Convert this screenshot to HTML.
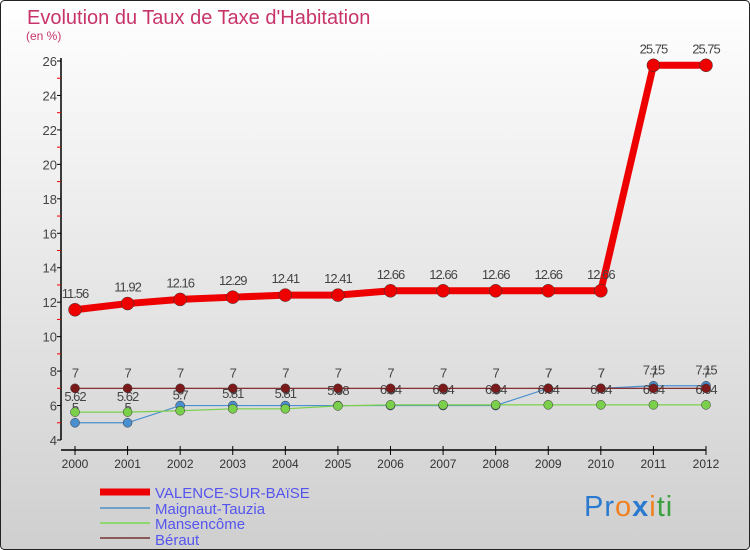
<!DOCTYPE html>
<html><head><meta charset="utf-8"><style>
body{margin:0;padding:0}
#c{position:relative;width:750px;height:550px;overflow:hidden}
svg text{font-family:"Liberation Sans",sans-serif}
</style></head><body>
<div id="c">
<svg id="s" width="750" height="550" xmlns="http://www.w3.org/2000/svg">
<defs><linearGradient id="bg" x1="0" y1="0" x2="0" y2="1"><stop offset="0" stop-color="#ffffff"/><stop offset="1" stop-color="#cfcfcf"/></linearGradient></defs>
<rect x="0.5" y="0.5" width="749" height="549" rx="4" fill="url(#bg)" stroke="#222"/>
<text x="27" y="24" font-size="20" fill="#c8346a">Evolution du Taux de Taxe d'Habitation</text>
<text x="26" y="40" font-size="12" fill="#c8346a">(en %)</text>
<g id="axes"></g><g id="series"></g>
<line x1="100" y1="492" x2="150" y2="492" stroke="#e00" stroke-width="7"/>
<text x="155" y="498" font-size="15" fill="#5555ee">VALENCE-SUR-BAïSE</text>
<line x1="100" y1="508" x2="150" y2="508" stroke="#6fa0c8" stroke-width="2"/>
<text x="155" y="514" font-size="15" fill="#5555ee">Maignaut-Tauzia</text>
<line x1="100" y1="523" x2="150" y2="523" stroke="#8fd870" stroke-width="2"/>
<text x="155" y="529" font-size="15" fill="#5555ee">Mansencôme</text>
<line x1="100" y1="538" x2="150" y2="538" stroke="#8a5a5a" stroke-width="2"/>
<text x="155" y="545" font-size="15" fill="#5555ee">Béraut</text>
<text x="584" y="516" font-size="29" letter-spacing="1"><tspan fill="#2a7ad0">Pr</tspan><tspan fill="#f08020">o</tspan><tspan fill="#2a7ad0" font-weight="bold">x</tspan><tspan fill="#f08020">i</tspan><tspan fill="#3aa040">ti</tspan></text>
</svg></div>
<script>
const years=[2000,2001,2002,2003,2004,2005,2006,2007,2008,2009,2010,2011,2012];
const valence=[11.56,11.92,12.16,12.29,12.41,12.41,12.66,12.66,12.66,12.66,12.66,25.75,25.75];
const maignaut=[5,5,6,6,6,6,6,6,6,7,7,7.15,7.15];
const mansencome=[5.62,5.62,5.7,5.81,5.81,5.98,6.04,6.04,6.04,6.04,6.04,6.04,6.04];
const beraut=[7,7,7,7,7,7,7,7,7,7,7,7,7];
const yTicks=[4,6,8,10,12,14,16,18,20,22,24,26];
const NS="http://www.w3.org/2000/svg";
function X(i){return 75+i*(706-75)/(years.length-1);}
function Y(v){return 440-(v-4)*(440-61)/22;}
function mk(t,a,p){const e=document.createElementNS(NS,t);for(const k in a)e.setAttribute(k,a[k]);p.appendChild(e);return e;}
const ax=document.getElementById('axes'),sg=document.getElementById('series');
let e=mk('line',{x1:61,y1:58,x2:61,y2:440,stroke:'#000','stroke-width':1.5},ax);


e=mk('line',{x1:61,y1:450,x2:706,y2:450,stroke:'#000','stroke-width':1.5},ax);


yTicks.forEach(v=>{
 mk('line',{x1:57,y1:Y(v),x2:61,y2:Y(v),stroke:'#000'},ax);
 if(v<26)mk('line',{x1:57,y1:Y(v+1),x2:61,y2:Y(v+1),stroke:'#e00'},ax);
 const t=mk('text',{x:57,y:Y(v)+5,'font-size':13,fill:'#444','text-anchor':'end'},ax);t.textContent=v;
 
 
});
years.forEach((y,i)=>{
 mk('line',{x1:X(i),y1:446,x2:X(i),y2:455,stroke:'#000'},ax);
 const t=mk('text',{x:X(i),y:468,'font-size':12,fill:'#333','text-anchor':'middle'},ax);t.textContent=y;
 
 
});
function series(arr,name,col,w,r,lblOff,lblCol){
 const p=mk('polyline',{points:arr.map((v,i)=>X(i)+','+Y(v)).join(' '),fill:'none',stroke:col,'stroke-width':w},sg);
 
 
 arr.forEach((v,i)=>{
  const c=mk('circle',{cx:X(i),cy:Y(v),r:r,fill:col,stroke:'#333','stroke-width':0.5},sg);
  
  
  const t=mk('text',{x:X(i),y:Y(v)+lblOff,'font-size':13,fill:lblCol,'text-anchor':'middle','letter-spacing':'-1'},sg);
  t.textContent=v;
  
  
 });
}
series(maignaut,'maignaut','#4a90d0',1.2,4.5,-11,'#444');
series(mansencome,'mansencome','#7ad04a',1.2,4.5,-11,'#444');
series(beraut,'beraut','#7a1a1a',1.2,4.5,-11,'#444');
series(valence,'valence','#ee0000',7,6.5,-12,'#444');
</script>
</body></html>
